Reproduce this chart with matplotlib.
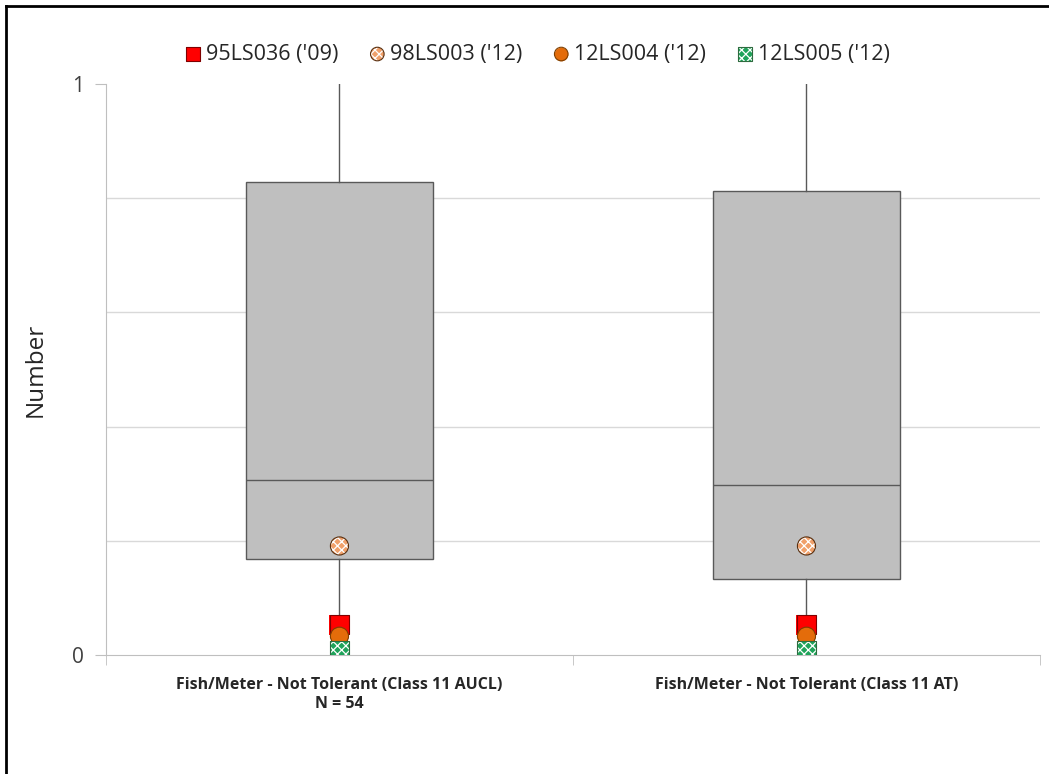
import numpy as np
import matplotlib.pyplot as plt
from matplotlib.lines import Line2D

plt.rcParams['font.family'] = ['Open Sans', 'DejaVu Sans']
plt.rcParams['hatch.linewidth'] = 0.9

categories = ["Fish/Meter - Not Tolerant (Class 11 AUCL)\nN = 54",
              "Fish/Meter - Not Tolerant (Class 11 AT)"]
box_min = [0.0, 0.0]
box_q1 = [0.168, 0.133]
box_med = [0.306, 0.298]
box_q3 = [0.828, 0.813]
box_max = [1.0, 1.0]

site_names = ["95LS036 ('09)", "98LS003 ('12)", "12LS004 ('12)", "12LS005 ('12)"]
site_values = {
    "95LS036 ('09)": [0.053, 0.053],
    "98LS003 ('12)": [0.191, 0.191],
    "12LS004 ('12)": [0.033, 0.033],
    "12LS005 ('12)": [0.007, 0.007],
}
site_style = {
    "95LS036 ('09)": dict(marker='s', color='#FF0000', edge='#7F0000', hatch=None),
    "98LS003 ('12)": dict(marker='o', color='#F0A06A', edge='#5A3010', hatch='xxxx'),
    "12LS004 ('12)": dict(marker='o', color='#E46C0A', edge='#7F3F00', hatch=None),
    "12LS005 ('12)": dict(marker='s', color='#1FA35A', edge='#2E6B3F', hatch='xxxx'),
}

fig = plt.figure(figsize=(10.49, 7.74), dpi=100)
ax = fig.add_axes([0.101, 0.1537, 0.8904, 0.7378])

pos = np.arange(1, len(categories) + 1)
stats = []
for i in range(len(categories)):
    stats.append(dict(whislo=box_min[i], q1=box_q1[i], med=box_med[i],
                      q3=box_q3[i], whishi=box_max[i], fliers=[]))

ax.bxp(stats, positions=pos, widths=0.4, showcaps=False, patch_artist=True,
       boxprops=dict(facecolor='#BFBFBF', edgecolor='#595959', linewidth=1.0),
       medianprops=dict(color='#595959', linewidth=1.0),
       whiskerprops=dict(color='#595959', linewidth=1.0), zorder=2)

handles = []
for k, name in enumerate(site_names):
    st = site_style[name]
    size = 190 if st['marker'] == 's' else 170
    # fill + white hatch, then the dark outline on top
    fill = ax.scatter(pos, site_values[name], marker=st['marker'], s=size,
                      facecolor=st['color'], edgecolor='white', linewidth=0,
                      hatch=st['hatch'], zorder=3 + k)
    edge = ax.scatter(pos, site_values[name], marker=st['marker'], s=size,
                      facecolor='none', edgecolor=st['edge'], linewidth=0.8, zorder=3 + k)
    handles.append((fill, edge))

ax.set_xlim(0.5, len(categories) + 0.5)
ax.set_ylim(0, 1)
ax.set_yticks([0, 1])
ax.set_yticklabels(['0', '1'], fontsize=15, color='#404040')
ax.set_yticks(np.arange(0, 1.01, 0.2), minor=True)
ax.grid(True, axis='y', which='minor', color='#D9D9D9', linewidth=1.0, zorder=0)
ax.set_axisbelow(True)
ax.tick_params(axis='y', which='major', length=8, color='#BFBFBF', pad=8)
ax.tick_params(axis='y', which='minor', length=0)

ax.set_xticks(pos)
ax.set_xticklabels(categories, fontsize=11.5, fontweight='bold', color='#262626')
ax.set_xticks(np.arange(0.5, len(categories) + 1, 1.0), minor=True)
ax.tick_params(axis='x', which='major', length=0, pad=16)
ax.tick_params(axis='x', which='minor', length=7, color='#BFBFBF')

for side in ['top', 'right']:
    ax.spines[side].set_visible(False)
ax.spines['left'].set_color('#BFBFBF')
ax.spines['bottom'].set_color('#BFBFBF')

ax.set_ylabel('Number', fontsize=17.5, color='#262626', labelpad=17)

fig.legend(handles=handles, labels=site_names, loc='center', bbox_to_anchor=(0.511, 0.930),
           ncol=4, frameon=False, fontsize=15.5, handletextpad=0.1, columnspacing=1.3,
           handlelength=1.0, markerscale=0.75, labelcolor='#262626')

# outer border (top and left only)
fig.add_artist(Line2D([0.006, 1.0], [0.992, 0.992], transform=fig.transFigure, color='black', linewidth=2))
fig.add_artist(Line2D([0.006, 0.006], [0.0, 0.992], transform=fig.transFigure, color='black', linewidth=2))

fig.savefig('out.png', dpi=100)
